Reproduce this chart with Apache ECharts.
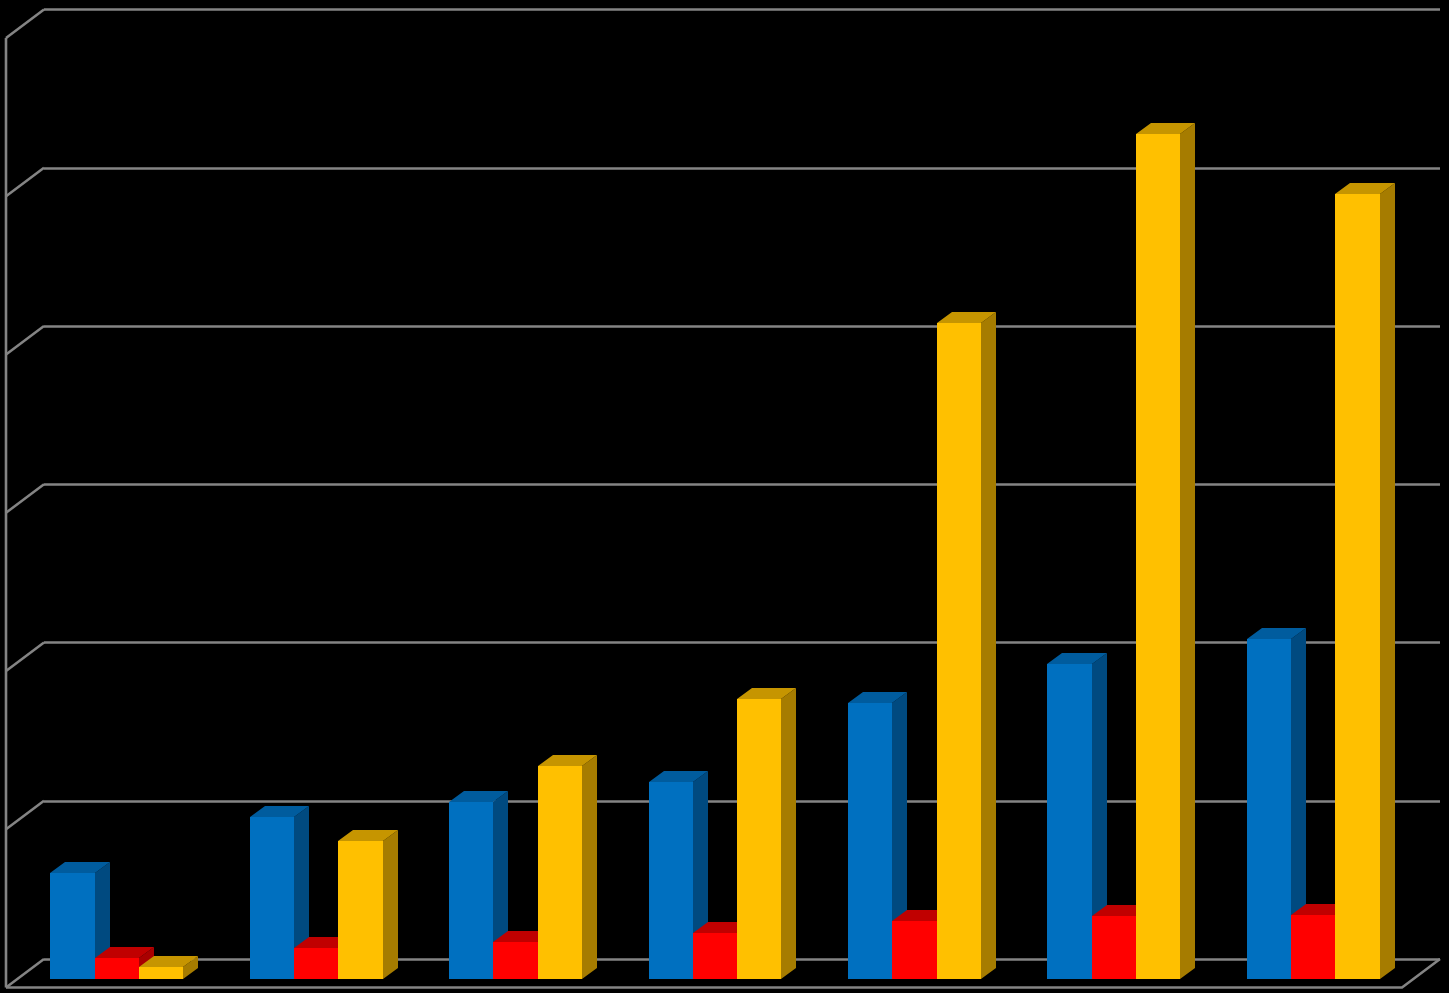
<!DOCTYPE html>
<html>
<head>
<meta charset="utf-8">
<title>3D clustered columns</title>
<style>html,body{margin:0;padding:0;background:#000}#c{width:1449px;height:993px}</style>
<script src="https://cdn.jsdelivr.net/npm/echarts@6/dist/echarts.min.js"></script>
</head>
<body>
<div id="c"></div>
<script>
const categories = ['1', '2', '3', '4', '5', '6', '7'];
const seriesA = [33.4, 51.2, 55.9, 62.2, 87.2, 99.5, 107.4];
const seriesB = [6.6, 9.8, 11.7, 14.5, 18.3, 19.9, 20.2];
const seriesC = [3.8, 43.6, 67.3, 88.4, 207.2, 266.8, 247.9];
const ticks = [0, 50, 100, 150, 200, 250, 300];

const colorsA = { front: '#0070C0', side: '#004A80', top: '#005C9E' };
const colorsB = { front: '#FF0000', side: '#A90000', top: '#C00000' };
const colorsC = { front: '#FFC000', side: '#A67C00', top: '#C69500' };

const GRID = '#848484';
const GRID_W = 2.6;
const barDX = 15, barDY = 11;          // bar depth on screen
const wallDX = 38, wallDY = 28.5;      // floor / side wall depth on screen
const barShare = 1 / 4.5;              // gap width 150 %

function barSeries(name, values, idx, col) {
  return {
    type: 'custom', name, xAxisIndex: 0, yAxisIndex: 0, clip: false, silent: true, z: 3 + idx,
    data: values.map((v, i) => [i, v]),
    encode: { x: 0, y: 1 },
    renderItem(params, api) {
      const top = api.coord([api.value(0), api.value(1)]);
      const base = api.coord([api.value(0), 0]);
      const w = api.size([1, 0])[0] * barShare;
      const x0 = Math.round(top[0] + (idx - 1.5) * w), x1 = Math.round(top[0] + (idx - 0.5) * w);
      const y0 = Math.round(top[1]), y1 = Math.round(base[1]);
      const sx = x1 + barDX, sy = y0 - barDY;
      return {
        type: 'group',
        children: [
          { type: 'polygon', shape: { points: [[x1 - 1, y0], [x1, y0], [sx, sy], [sx, y1 - barDY], [x1, y1], [x1 - 1, y1]] }, style: { fill: col.side } },
          { type: 'polygon', shape: { points: [[x0, y0 + 1], [x0, y0], [x0 + barDX, sy], [sx, sy], [x1, y0], [x1, y0 + 1]] }, style: { fill: col.top } },
          { type: 'rect', shape: { x: x0, y: y0, width: x1 - x0, height: y1 - y0 }, style: { fill: col.front } }
        ]
      };
    }
  };
}

const wallSeries = {
  type: 'custom', name: 'walls', xAxisIndex: 1, yAxisIndex: 1, clip: false, silent: true, z: 1,
  data: ticks.map(t => [0, t]),
  encode: { y: 1 },
  renderItem(params, api) {
    const t = api.value(1);
    const cs = params.coordSys;
    const y = api.coord([0, t])[1];
    const style = { stroke: GRID, lineWidth: GRID_W, fill: null };
    const kids = [{ type: 'line', shape: { x1: cs.x, y1: y, x2: cs.x - wallDX, y2: y + wallDY }, style }];
    if (t === ticks[ticks.length - 1]) {
      kids.push({ type: 'line', shape: { x1: cs.x - wallDX, y1: y + wallDY, x2: cs.x - wallDX, y2: cs.y + cs.height + wallDY }, style });
    }
    if (t === 0) {
      kids.push({ type: 'polyline', shape: { points: [[cs.x - wallDX, y + wallDY], [cs.x + cs.width - wallDX, y + wallDY], [cs.x + cs.width, y]] }, style });
    }
    return { type: 'group', children: kids };
  }
};

const chart = echarts.init(document.getElementById('c'), null, { renderer: 'canvas' });
const hiddenX = { type: 'category', data: categories, axisLine: { show: false }, axisTick: { show: false }, axisLabel: { show: false }, splitLine: { show: false } };
chart.setOption({
  backgroundColor: '#000000',
  animation: false,
  grid: [
    { left: 17, top: 29, width: 1396, height: 950 },
    { left: 44, top: 9.5, width: 1396, height: 949.5 }
  ],
  xAxis: [
    Object.assign({ gridIndex: 0 }, hiddenX),
    Object.assign({ gridIndex: 1 }, hiddenX)
  ],
  yAxis: [
    { gridIndex: 0, type: 'value', min: 0, max: 300, interval: 50, axisLine: { show: false }, axisTick: { show: false }, axisLabel: { show: false }, splitLine: { show: false } },
    { gridIndex: 1, type: 'value', min: 0, max: 300, interval: 50, axisLine: { show: false }, axisTick: { show: false }, axisLabel: { show: false },
      splitLine: { show: true, lineStyle: { color: GRID, width: GRID_W } } }
  ],
  series: [
    wallSeries,
    barSeries('A', seriesA, 0, colorsA),
    barSeries('B', seriesB, 1, colorsB),
    barSeries('C', seriesC, 2, colorsC)
  ]
});
</script>
</body>
</html>
